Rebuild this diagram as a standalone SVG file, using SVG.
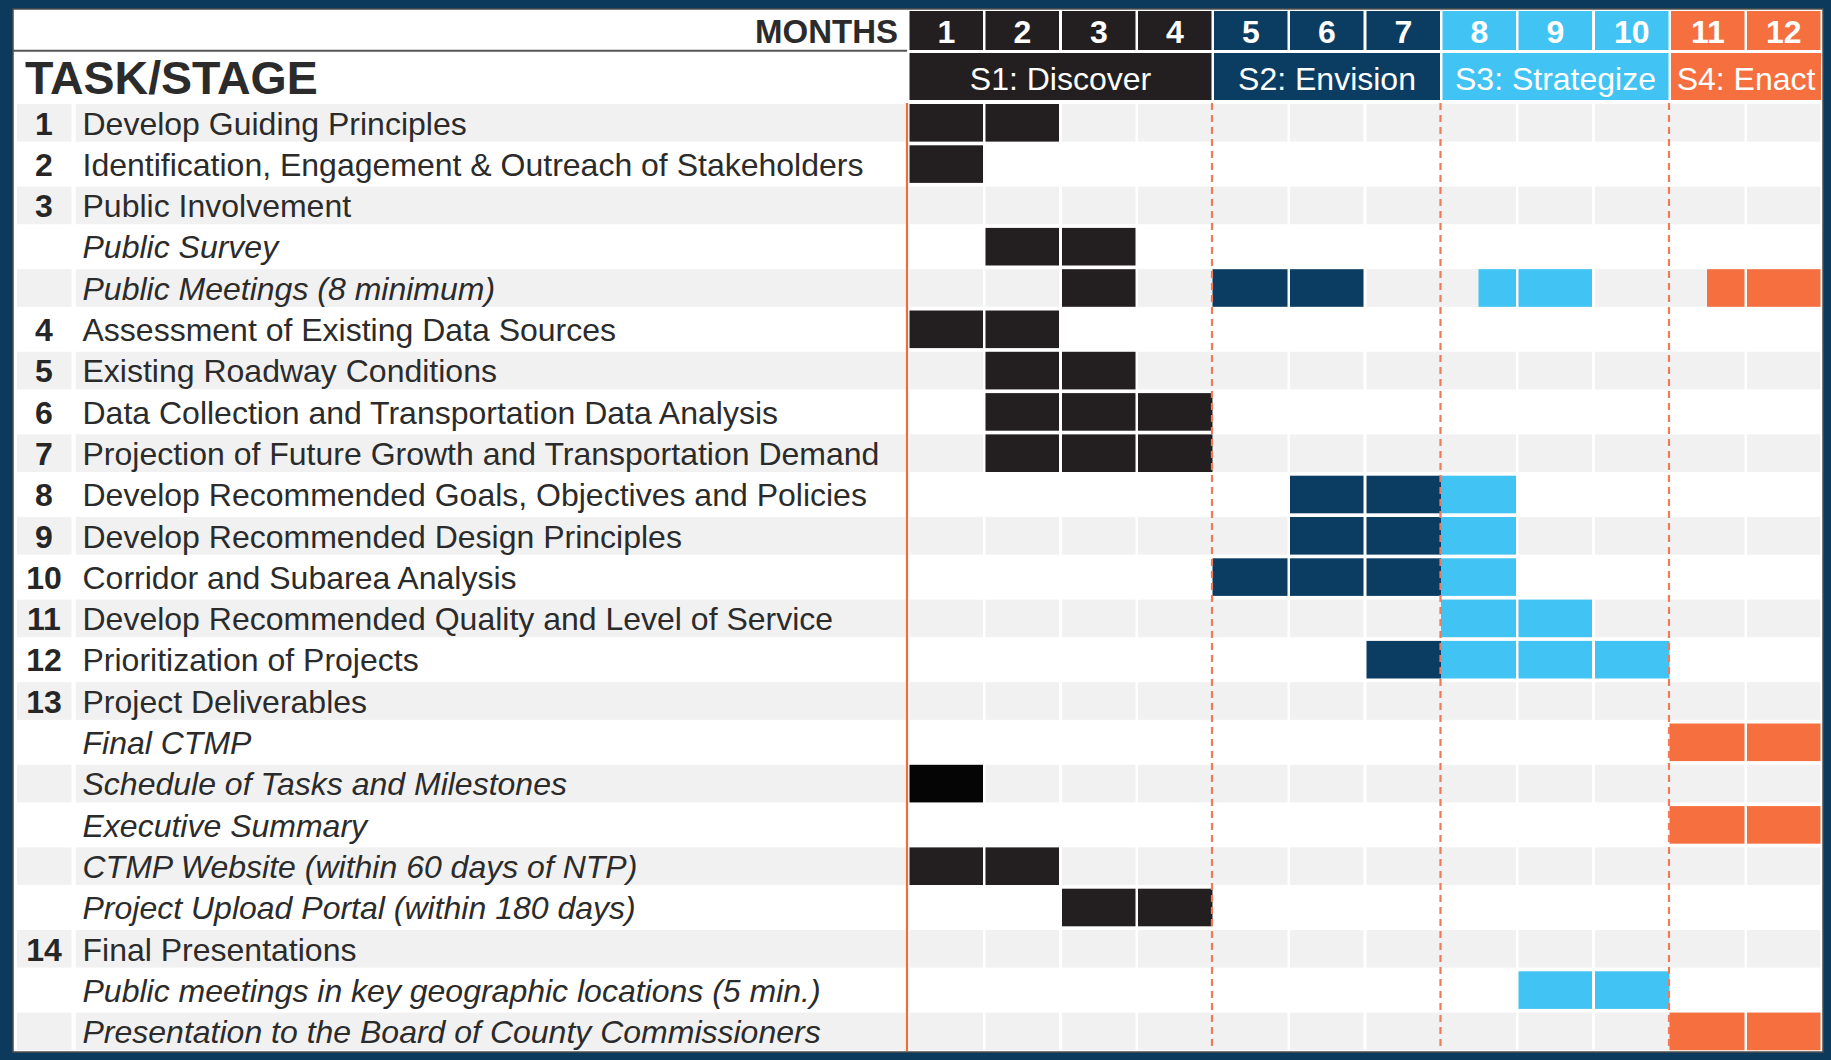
<svg xmlns="http://www.w3.org/2000/svg" xmlns:xlink="http://www.w3.org/1999/xlink" width="1831" height="1060" viewBox="0 0 1831 1060">
<style>
text{font-family:"Liberation Sans",Arial,sans-serif;fill:#2b2b2b}
.g{fill:#f1f1f1}
.k{fill:#231f20}
.kk{fill:#050505}
.n{fill:#0b3d63}
.b{fill:#41c4f4}
.o{fill:#f5703e}
.num{font-size:32px;font-weight:bold;text-anchor:middle;fill:#262626}
.lbl{font-size:32px}
.it{font-size:32px;font-style:italic}
.mh{font-size:32px;font-weight:bold;fill:#fff;text-anchor:middle}
.sh{font-size:32px;fill:#fff;text-anchor:middle}
.dash{stroke:#f07a5a;stroke-width:2.2;stroke-dasharray:7 5;fill:none}
</style>
<defs>
<g id="grow">
<rect class="g" x="17" y="0" width="54.5" height="37.6"/>
<rect class="g" x="75.7" y="0" width="830" height="37.6"/>
<rect class="g" x="909.5" y="0" width="73.5" height="37.6"/>
<rect class="g" x="985.5" y="0" width="73.5" height="37.6"/>
<rect class="g" x="1062" y="0" width="73.5" height="37.6"/>
<rect class="g" x="1138" y="0" width="74.5" height="37.6"/>
<rect class="g" x="1212.5" y="0" width="75" height="37.6"/>
<rect class="g" x="1290" y="0" width="73.5" height="37.6"/>
<rect class="g" x="1366.5" y="0" width="74.5" height="37.6"/>
<rect class="g" x="1441" y="0" width="75" height="37.6"/>
<rect class="g" x="1518.5" y="0" width="73.5" height="37.6"/>
<rect class="g" x="1595" y="0" width="74.5" height="37.6"/>
<rect class="g" x="1669.5" y="0" width="75" height="37.6"/>
<rect class="g" x="1747" y="0" width="73.5" height="37.6"/>
</g>
</defs>
<rect x="0" y="0" width="1831" height="1060" fill="#0c3a5d"/>
<rect x="13" y="9" width="1810" height="1043" fill="#fff" stroke="#4d4d4d" stroke-width="1.5"/>

<g id="header">
<text x="898" y="43" style="font-size:33px;font-weight:bold;text-anchor:end">MONTHS</text>
<line x1="13" y1="50.7" x2="907" y2="50.7" stroke="#555" stroke-width="2"/>
<text x="25" y="94" style="font-size:46.5px;font-weight:bold">TASK/STAGE</text>
<rect class="k" x="909.5" y="11" width="73.5" height="39"/>
<rect class="k" x="985.5" y="11" width="73.5" height="39"/>
<rect class="k" x="1062" y="11" width="73.5" height="39"/>
<rect class="k" x="1138" y="11" width="73.5" height="39"/>
<rect class="n" x="1214" y="11" width="73.5" height="39"/>
<rect class="n" x="1290" y="11" width="73.5" height="39"/>
<rect class="n" x="1366.5" y="11" width="73.5" height="39"/>
<rect class="b" x="1442.5" y="11" width="73.5" height="39"/>
<rect class="b" x="1518.5" y="11" width="73.5" height="39"/>
<rect class="b" x="1595" y="11" width="73.5" height="39"/>
<rect class="o" x="1671" y="11" width="73.5" height="39"/>
<rect class="o" x="1747" y="11" width="73.5" height="39"/>
<text class="mh" x="946.3" y="43.3">1</text>
<text class="mh" x="1022.3" y="43.3">2</text>
<text class="mh" x="1098.8" y="43.3">3</text>
<text class="mh" x="1174.8" y="43.3">4</text>
<text class="mh" x="1250.8" y="43.3">5</text>
<text class="mh" x="1326.8" y="43.3">6</text>
<text class="mh" x="1403.3" y="43.3">7</text>
<text class="mh" x="1479.3" y="43.3">8</text>
<text class="mh" x="1555.3" y="43.3">9</text>
<text class="mh" x="1631.8" y="43.3">10</text>
<text class="mh" x="1707.8" y="43.3">11</text>
<text class="mh" x="1783.8" y="43.3">12</text>
<rect class="k" x="909.5" y="53" width="302" height="47"/>
<rect class="n" x="1214" y="53" width="226" height="47"/>
<rect class="b" x="1442.5" y="53" width="226" height="47"/>
<rect class="o" x="1671" y="53" width="150" height="47"/>
<text class="sh" x="1060.5" y="89.5">S1: Discover</text>
<text class="sh" x="1327" y="89.5">S2: Envision</text>
<text class="sh" x="1555.5" y="89.5">S3: Strategize</text>
<text class="sh" x="1746" y="89.5">S4: Enact</text>
</g>

<g id="row1"><use href="#grow" y="104"/><text class="num" x="44" y="134.5">1</text><text class="lbl" x="82.5" y="134.5">Develop Guiding Principles</text>
<rect class="k" x="909.5" y="104" width="73.5" height="37.6"/><rect class="k" x="985.5" y="104" width="73.5" height="37.6"/></g>

<g id="row2"><text class="num" x="44" y="175.8">2</text><text class="lbl" x="82.5" y="175.8">Identification, Engagement &amp; Outreach of Stakeholders</text>
<rect class="k" x="909.5" y="145.3" width="73.5" height="37.6"/></g>

<g id="row3"><use href="#grow" y="186.6"/><text class="num" x="44" y="217.1">3</text><text class="lbl" x="82.5" y="217.1">Public Involvement</text></g>

<g id="row3a"><text class="it" x="82.5" y="258.4">Public Survey</text>
<rect class="k" x="985.5" y="227.9" width="73.5" height="37.6"/><rect class="k" x="1062" y="227.9" width="73.5" height="37.6"/></g>

<g id="row3b"><use href="#grow" y="269.2"/><text class="it" x="82.5" y="299.7">Public Meetings (8 minimum)</text>
<rect class="k" x="1062" y="269.2" width="73.5" height="37.6"/>
<rect class="n" x="1212.5" y="269.2" width="75" height="37.6"/><rect class="n" x="1290" y="269.2" width="73.5" height="37.6"/>
<rect class="b" x="1478.5" y="269.2" width="37.5" height="37.6"/><rect class="b" x="1518.5" y="269.2" width="73.5" height="37.6"/>
<rect class="o" x="1707" y="269.2" width="37.5" height="37.6"/><rect class="o" x="1747" y="269.2" width="73.5" height="37.6"/></g>

<g id="row4"><text class="num" x="44" y="341">4</text><text class="lbl" x="82.5" y="341">Assessment of Existing Data Sources</text>
<rect class="k" x="909.5" y="310.5" width="73.5" height="37.6"/><rect class="k" x="985.5" y="310.5" width="73.5" height="37.6"/></g>

<g id="row5"><use href="#grow" y="351.8"/><text class="num" x="44" y="382.3">5</text><text class="lbl" x="82.5" y="382.3">Existing Roadway Conditions</text>
<rect class="k" x="985.5" y="351.8" width="73.5" height="37.6"/><rect class="k" x="1062" y="351.8" width="73.5" height="37.6"/></g>

<g id="row6"><text class="num" x="44" y="423.6">6</text><text class="lbl" x="82.5" y="423.6">Data Collection and Transportation Data Analysis</text>
<rect class="k" x="985.5" y="393.1" width="73.5" height="37.6"/><rect class="k" x="1062" y="393.1" width="73.5" height="37.6"/><rect class="k" x="1138" y="393.1" width="74.5" height="37.6"/></g>

<g id="row7"><use href="#grow" y="434.4"/><text class="num" x="44" y="464.9">7</text><text class="lbl" x="82.5" y="464.9">Projection of Future Growth and Transportation Demand</text>
<rect class="k" x="985.5" y="434.4" width="73.5" height="37.6"/><rect class="k" x="1062" y="434.4" width="73.5" height="37.6"/><rect class="k" x="1138" y="434.4" width="74.5" height="37.6"/></g>

<g id="row8"><text class="num" x="44" y="506.2">8</text><text class="lbl" x="82.5" y="506.2">Develop Recommended Goals, Objectives and Policies</text>
<rect class="n" x="1290" y="475.7" width="73.5" height="37.6"/><rect class="n" x="1366.5" y="475.7" width="74.5" height="37.6"/><rect class="b" x="1441" y="475.7" width="75" height="37.6"/></g>

<g id="row9"><use href="#grow" y="517"/><text class="num" x="44" y="547.5">9</text><text class="lbl" x="82.5" y="547.5">Develop Recommended Design Principles</text>
<rect class="n" x="1290" y="517" width="73.5" height="37.6"/><rect class="n" x="1366.5" y="517" width="74.5" height="37.6"/><rect class="b" x="1441" y="517" width="75" height="37.6"/></g>

<g id="row10"><text class="num" x="44" y="588.8">10</text><text class="lbl" x="82.5" y="588.8">Corridor and Subarea Analysis</text>
<rect class="n" x="1212.5" y="558.3" width="75" height="37.6"/><rect class="n" x="1290" y="558.3" width="73.5" height="37.6"/><rect class="n" x="1366.5" y="558.3" width="74.5" height="37.6"/><rect class="b" x="1441" y="558.3" width="75" height="37.6"/></g>

<g id="row11"><use href="#grow" y="599.6"/><text class="num" x="44" y="630.1">11</text><text class="lbl" x="82.5" y="630.1">Develop Recommended Quality and Level of Service</text>
<rect class="b" x="1441" y="599.6" width="75" height="37.6"/><rect class="b" x="1518.5" y="599.6" width="73.5" height="37.6"/></g>

<g id="row12"><text class="num" x="44" y="671.4">12</text><text class="lbl" x="82.5" y="671.4">Prioritization of Projects</text>
<rect class="n" x="1366.5" y="640.9" width="74.5" height="37.6"/><rect class="b" x="1441" y="640.9" width="75" height="37.6"/><rect class="b" x="1518.5" y="640.9" width="73.5" height="37.6"/><rect class="b" x="1595" y="640.9" width="74.5" height="37.6"/></g>

<g id="row13"><use href="#grow" y="682.2"/><text class="num" x="44" y="712.7">13</text><text class="lbl" x="82.5" y="712.7">Project Deliverables</text></g>

<g id="row13a"><text class="it" x="82.5" y="754">Final CTMP</text>
<rect class="o" x="1669.5" y="723.5" width="75" height="37.6"/><rect class="o" x="1747" y="723.5" width="73.5" height="37.6"/></g>

<g id="row13b"><use href="#grow" y="764.8"/><text class="it" x="82.5" y="795.3">Schedule of Tasks and Milestones</text>
<rect class="kk" x="909.5" y="764.8" width="73.5" height="37.6"/></g>

<g id="row13c"><text class="it" x="82.5" y="836.6">Executive Summary</text>
<rect class="o" x="1669.5" y="806.1" width="75" height="37.6"/><rect class="o" x="1747" y="806.1" width="73.5" height="37.6"/></g>

<g id="row13d"><use href="#grow" y="847.4"/><text class="it" x="82.5" y="877.9">CTMP Website (within 60 days of NTP)</text>
<rect class="k" x="909.5" y="847.4" width="73.5" height="37.6"/><rect class="k" x="985.5" y="847.4" width="73.5" height="37.6"/></g>

<g id="row13e"><text class="it" x="82.5" y="919.2">Project Upload Portal (within 180 days)</text>
<rect class="k" x="1062" y="888.7" width="73.5" height="37.6"/><rect class="k" x="1138" y="888.7" width="74.5" height="37.6"/></g>

<g id="row14"><use href="#grow" y="930"/><text class="num" x="44" y="960.5">14</text><text class="lbl" x="82.5" y="960.5">Final Presentations</text></g>

<g id="row14a"><text class="it" x="82.5" y="1001.8">Public meetings in key geographic locations (5 min.)</text>
<rect class="b" x="1518.5" y="971.3" width="73.5" height="37.6"/><rect class="b" x="1595" y="971.3" width="74.5" height="37.6"/></g>

<g id="row14b"><use href="#grow" y="1012.6"/><text class="it" x="82.5" y="1043.1">Presentation to the Board of County Commissioners</text>
<rect class="o" x="1669.5" y="1012.6" width="75" height="37.6"/><rect class="o" x="1747" y="1012.6" width="73.5" height="37.6"/></g>

<g id="dividers">
<line x1="907" y1="103" x2="907" y2="1051" stroke="#f26b3a" stroke-width="2.2"/>
<line class="dash" x1="1212" y1="103" x2="1212" y2="1051"/>
<line class="dash" x1="1440.5" y1="103" x2="1440.5" y2="1051"/>
<line class="dash" x1="1669" y1="103" x2="1669" y2="1051"/>
</g>
</svg>
